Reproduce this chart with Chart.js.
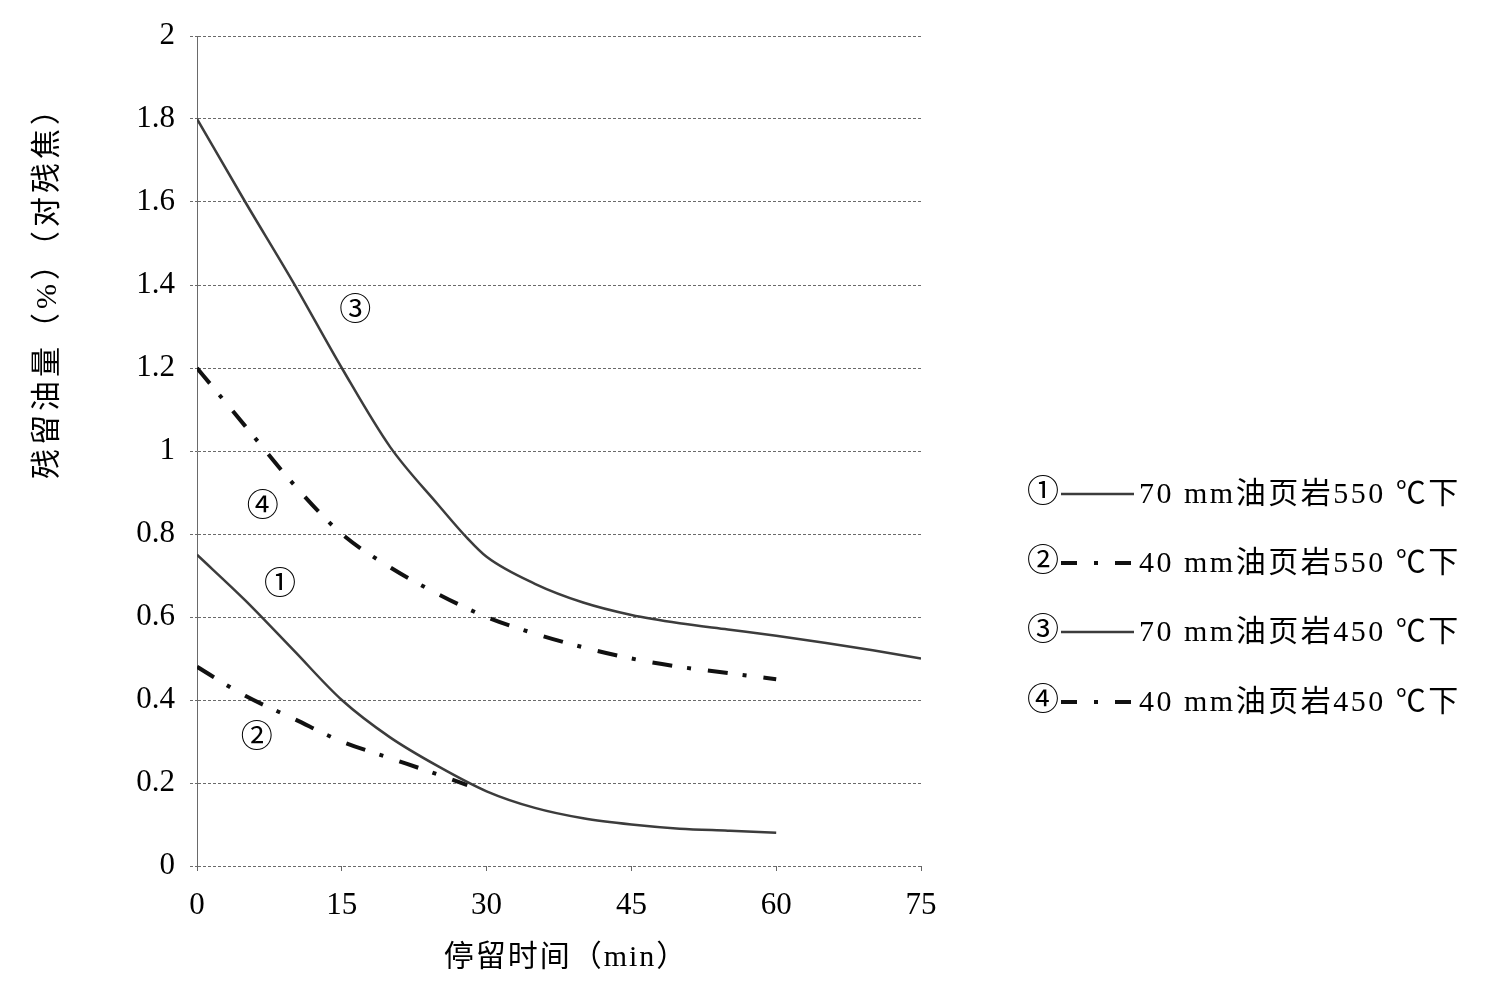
<!DOCTYPE html>
<html>
<head>
<meta charset="utf-8">
<script src="https://cdn.jsdelivr.net/npm/chart.js@4/dist/chart.umd.min.js"></script>
<style>
  html, body { margin: 0; padding: 0; background: #fff; }
  #wrap { width: 1493px; height: 997px; }
</style>
</head>
<body>
<div id="wrap"><canvas id="grafico" width="1493" height="997"></canvas></div>
<script>
// dados (tempo em min, oleo residual em %)
const time1 = [0, 5, 10, 15, 20, 25, 30, 35, 40, 45, 50, 55, 60];
const oil1 = [0.75, 0.64, 0.52, 0.40, 0.31, 0.24, 0.18, 0.14, 0.115, 0.10, 0.09, 0.085, 0.08];

const time2 = [0, 5, 10, 15, 20, 25, 28];
const oil2 = [0.48, 0.41, 0.355, 0.30, 0.26, 0.22, 0.195];

const time3 = [0, 5, 10, 15, 20, 25, 28, 30, 35, 40, 45, 50, 55, 60, 65, 70, 75];
const oil3 = [1.8, 1.6, 1.405, 1.2, 1.01, 0.87, 0.79, 0.745, 0.68, 0.635, 0.605, 0.585, 0.57, 0.555, 0.538, 0.52, 0.50];

const time4 = [0, 5, 10, 15, 20, 25, 30, 35, 40, 45, 50, 55, 60];
const oil4 = [1.2, 1.06, 0.92, 0.80, 0.72, 0.655, 0.60, 0.56, 0.527, 0.50, 0.48, 0.465, 0.45];

const seriesMarks = ['①', '②', '③', '④'];
const seriesNames = ['70 mm油页岩550 ℃下', '40 mm油页岩550 ℃下', '70 mm油页岩450 ℃下', '40 mm油页岩450 ℃下'];
// posicao dos numeros dentro do grafico (coordenadas de dados)
const markX = [8.6, 6.2, 16.4, 6.8];
const markY = [0.675, 0.308, 1.335, 0.863];

const xTitle = '停留时间（min）';
const yTitle = '残留油量（%）（对残焦）';

const FONT = "'Liberation Serif', 'Noto Sans CJK SC', serif";
const solidStyle = { color: '#3c3c3c', width: 2.5, dash: [] };
const dashStyle = { color: '#111', width: 4, dash: [20, 15, 4, 17] };
const styles = [solidStyle, dashStyle, solidStyle, dashStyle];

function pts(xs, ys) {
  return xs.map((x, i) => ({ x: x, y: ys[i] }));
}

const rawData = [[time1, oil1], [time2, oil2], [time3, oil3], [time4, oil4]];

const datasets = rawData.map((d, i) => ({
  label: seriesNames[i],
  data: pts(d[0], d[1]),
  borderColor: styles[i].color,
  borderWidth: styles[i].width,
  borderDash: styles[i].dash,
  pointRadius: 0,
  fill: false,
  cubicInterpolationMode: 'monotone'
}));

// desenha numeros, titulos dos eixos e legenda
const extras = {
  id: 'extras',
  afterDraw(chart) {
    const ctx = chart.ctx;
    const xs = chart.scales.x, ys = chart.scales.y;
    ctx.save();
    ctx.fillStyle = '#000';
    ctx.textBaseline = 'middle';
    ctx.textAlign = 'center';
    ctx.font = '32px ' + FONT;
    for (let i = 0; i < 4; i++) {
      ctx.fillText(seriesMarks[i], xs.getPixelForValue(markX[i]), ys.getPixelForValue(markY[i]));
    }

    // titulo do eixo x
    ctx.font = '30px ' + FONT;
    ctx.letterSpacing = '2px';
    ctx.fillText(xTitle, 566, 958);

    // titulo do eixo y
    ctx.save();
    ctx.translate(48, 285);
    ctx.rotate(-Math.PI / 2);
    ctx.letterSpacing = '4px';
    ctx.fillText(yTitle, 0, 0);
    ctx.restore();

    // legenda
    const rowY = [494, 563, 632, 702];
    for (let i = 0; i < 4; i++) {
      const y = rowY[i];
      ctx.letterSpacing = '0px';
      ctx.textAlign = 'center';
      ctx.font = '32px ' + FONT;
      ctx.fillText(seriesMarks[i], 1043, y);
      ctx.beginPath();
      ctx.strokeStyle = styles[i].color;
      ctx.lineWidth = styles[i].width;
      ctx.setLineDash(i % 2 ? [16, 17, 4, 17] : []);
      ctx.moveTo(1061, y);
      ctx.lineTo(1134, y);
      ctx.stroke();
      ctx.setLineDash([]);
      ctx.textAlign = 'left';
      ctx.font = '30px ' + FONT;
      ctx.letterSpacing = '2.5px';
      ctx.fillText(seriesNames[i], 1139, y + 1);
    }
    ctx.restore();
  }
};

var ctx = document.getElementById('grafico').getContext('2d');
var myChart = new Chart(ctx, {
  type: 'line',
  data: { datasets: datasets },
  options: {
    responsive: false,
    animation: false,
    layout: { padding: { left: 0, top: 36, right: 572, bottom: 0 } },
    plugins: { legend: { display: false }, tooltip: { enabled: false } },
    scales: {
      x: {
        type: 'linear',
        min: 0,
        max: 75,
        afterFit: function (scale) { scale.height = 131; },
        ticks: { stepSize: 15, color: '#000', padding: 16, font: { family: FONT, size: 31 } },
        grid: { drawOnChartArea: false, color: '#666', tickLength: 5 },
        border: { display: false }
      },
      y: {
        min: 0,
        max: 2,
        afterFit: function (scale) { scale.width = 197; },
        ticks: {
          stepSize: 0.2,
          color: '#000',
          padding: 15,
          font: { family: FONT, size: 31 },
          callback: function (v) { return String(+v.toFixed(1)); }
        },
        grid: { color: '#6a6a6a', lineWidth: 1, tickLength: 7, tickBorderDash: [3, 2] },
        border: { color: '#6a6a6a', dash: [3, 2] }
      }
    }
  },
  plugins: [extras]
});
</script>
</body>
</html>
